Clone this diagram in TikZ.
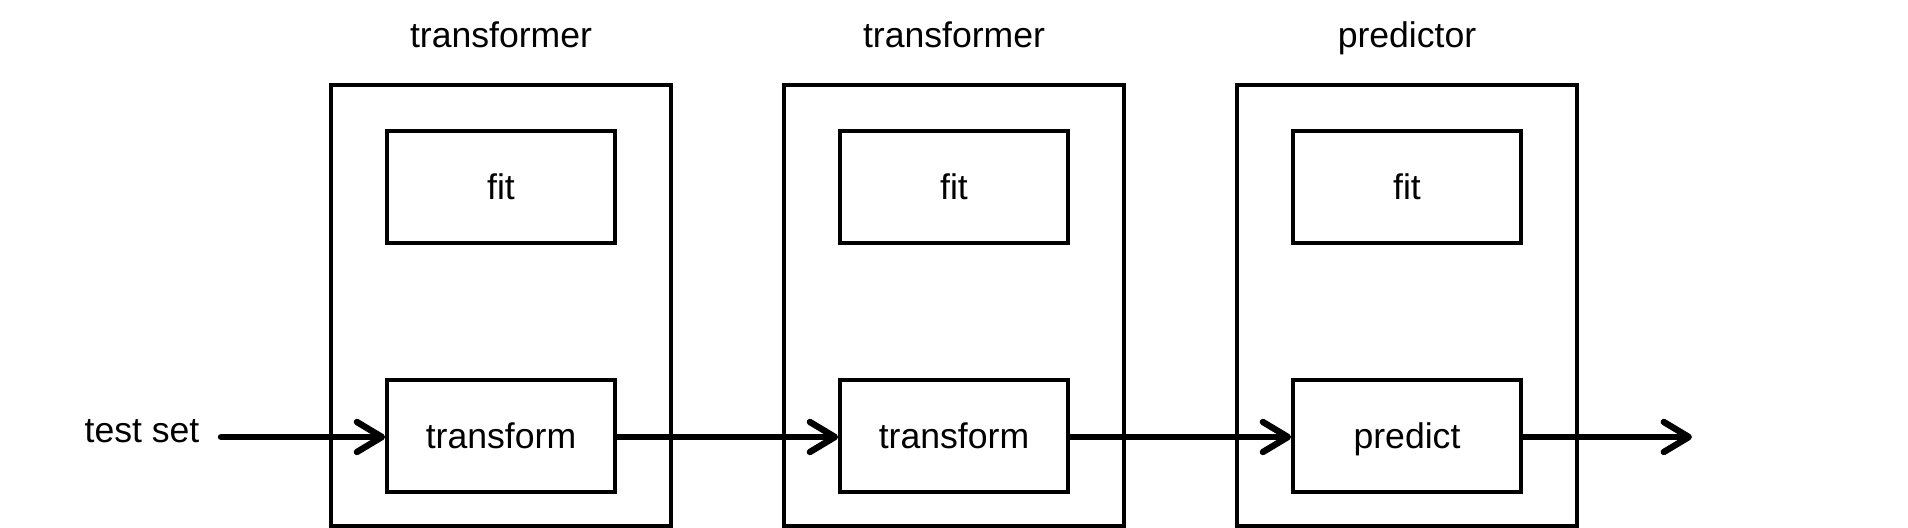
\documentclass[tikz,border=0pt]{standalone}
\usepackage{fontspec}
\setmainfont{Liberation Sans}
\usetikzlibrary{arrows.meta}
\begin{document}
\begin{tikzpicture}[x=0.5pt,y=-0.5pt,
  every node/.style={font=\fontsize{17.8pt}{21pt}\selectfont, inner sep=0pt},
  outerbox/.style={draw, line width=1.9pt, minimum width=170pt, minimum height=220.5pt},
  innerbox/.style={draw, line width=1.9pt, minimum width=114pt, minimum height=56pt, text height=12.8pt, text depth=0pt},
  title/.style={anchor=base},
  flow/.style={line width=3.2pt, line cap=round, -{Straight Barb[length=12.5pt,width=15pt,line width=3.2pt,line cap=round,line join=round]}}]
\useasboundingbox (0,0) rectangle (1908,528);
\foreach \i/\t/\b in {0/transformer/transform,1/transformer/transform,2/predictor/predict}{
  \node[outerbox] (outer\i) at ({501+453*\i},305.5) {};
  \node[title] (title\i) at ({501+453*\i},48) {\t};
  \node[innerbox] (fit\i) at ({501+453*\i},187) {fit};
  \node[innerbox] (op\i) at ({501+453*\i},436) {\b};
}
\node[anchor=base] (test) at (142,443) {test set};
\coordinate (start) at (221,437);
\coordinate (out) at (1692,437);
\draw[flow] (start) -- (op0.west|-start);
\draw[flow] (op0.east|-start) -- (op1.west|-start);
\draw[flow] (op1.east|-start) -- (op2.west|-start);
\draw[flow] (op2.east|-start) -- (out);
\end{tikzpicture}
\end{document}
